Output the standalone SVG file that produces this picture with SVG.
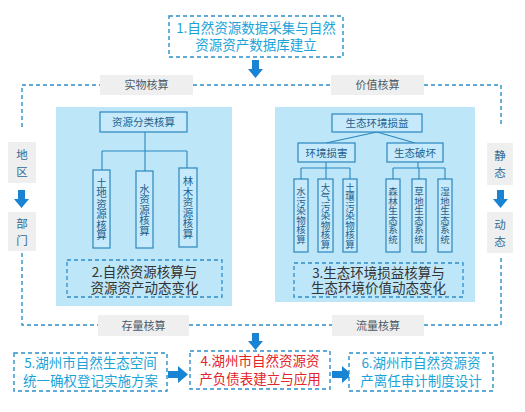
<svg xmlns="http://www.w3.org/2000/svg" width="525" height="412" viewBox="0 0 525 412">
<style>
text{font-family:"Noto Sans CJK SC","Liberation Sans",sans-serif;}
.dash{fill:none;stroke:#2b8fc9;stroke-width:1.4;stroke-dasharray:4,3;}
.dashbox{fill:#ffffff;stroke:#2b8fc9;stroke-width:1.4;stroke-dasharray:4,3;}
.dashin{fill:none;stroke:#2b8fc9;stroke-width:1.3;stroke-dasharray:4,3;}
.lab{fill:#efefef;}
.labt{font-size:11px;fill:#4a5a66;text-anchor:middle;}
.panel{fill:#bde6f8;}
.ibox{fill:#c6eafb;stroke:#2a86bf;stroke-width:1.2;}
.it{font-size:10.5px;fill:#1f5f8c;text-anchor:middle;}
.vt{font-size:10.5px;fill:#1f5f8c;writing-mode:vertical-rl;text-orientation:upright;text-anchor:middle;}
.vts{font-size:9.5px;fill:#1f5f8c;writing-mode:vertical-rl;text-orientation:upright;text-anchor:middle;}
.line{fill:none;stroke:#2a86bf;stroke-width:1.1;}
.big{font-size:13.5px;text-anchor:middle;}
.cyan{fill:#1ba3d8;}
.red{fill:#e3242b;}
.dark{fill:#333333;}
.arr{fill:#1a84d4;}
.side{font-size:11.5px;fill:#2f6a93;text-anchor:middle;}
</style>

<g id="connectors">
  <path class="dash" d="M22,127 V85 H100 M193,85 H331 M424,85 H501 V127"/>
  <path class="dash" d="M22,253 V325 H98 M189,325 H332 M424,325 H501 V255"/>
  <path class="arr" d="M252,60 H259 V69 H263 L255.5,78 L248,69 H252 Z"/>
  <path class="arr" d="M18,190 H25 V199 H29 L21.5,208 L14,199 H18 Z"/>
  <path class="arr" d="M497,190 H504 V199 H508 L500.5,208 L493,199 H497 Z"/>
  <path class="arr" d="M252,333 H259 V341 H263 L255.5,350 L248,341 H252 Z"/>
  <path class="arr" d="M168,371 H178 V366 L188,374.5 L178,383 V378 H168 Z"/>
  <path class="arr" d="M332,371 H342 V366 L352,374.5 L342,383 V378 H332 Z"/>
</g>

<g id="node1">
  <rect class="dashbox" x="169" y="16" width="174" height="41"/>
  <text class="big cyan" x="256" y="33">1.自然资源数据采集与自然<tspan x="256" dy="17">资源资产数据库建立</tspan></text>
</g>

<g id="label-shiwu">
  <rect class="lab" x="100" y="75" width="93" height="20"/>
  <text class="labt" x="146.5" y="89">实物核算</text>
</g>
<g id="label-jiazhi">
  <rect class="lab" x="331" y="75" width="93" height="20"/>
  <text class="labt" x="377.5" y="89">价值核算</text>
</g>
<g id="label-cunliang">
  <rect class="lab" x="98" y="315" width="91" height="21"/>
  <text class="labt" x="143.5" y="329.5">存量核算</text>
</g>
<g id="label-liuliang">
  <rect class="lab" x="332" y="315" width="92" height="21"/>
  <text class="labt" x="378" y="329.5">流量核算</text>
</g>

<g id="label-diqu">
  <rect class="lab" x="8" y="142" width="28" height="41"/>
  <text class="side" x="22" y="159">地<tspan x="22" dy="17">区</tspan></text>
</g>
<g id="label-bumen">
  <rect class="lab" x="8" y="212" width="28" height="39"/>
  <text class="side" x="22" y="228">部<tspan x="22" dy="17">门</tspan></text>
</g>
<g id="label-jingtai">
  <rect class="lab" x="487" y="143" width="26" height="42"/>
  <text class="side" x="500" y="160">静<tspan x="500" dy="17">态</tspan></text>
</g>
<g id="label-dongtai">
  <rect class="lab" x="487" y="212" width="26" height="41"/>
  <text class="side" x="500" y="229">动<tspan x="500" dy="17">态</tspan></text>
</g>

<g id="panel-left">
  <rect class="panel" x="56" y="107" width="176" height="199"/>
  <path class="line" d="M145,132 V171 M102,151 H187 M102,151 V170 M187,151 V168"/>
  <g id="ziyuanfenlei">
    <rect class="ibox" x="100" y="112" width="87" height="20"/>
    <text class="it" x="143.5" y="126">资源分类核算</text>
  </g>
  <g id="tudi">
    <rect class="ibox" x="93" y="170" width="17" height="78"/>
    <text class="vt" x="101.5" y="209">土地资源核算</text>
  </g>
  <g id="shuiziyuan">
    <rect class="ibox" x="136" y="171" width="17" height="77"/>
    <text class="vt" x="144.5" y="210">水资源核算</text>
  </g>
  <g id="linmu">
    <rect class="ibox" x="179" y="168" width="18" height="79"/>
    <text class="vt" x="188" y="207.5">林木资源核算</text>
  </g>
  <g id="node2">
    <rect class="dashin" x="67" y="260" width="155" height="37"/>
    <text class="big dark" x="144.5" y="277">2.自然资源核算与<tspan x="144.5" dy="16">资源资产动态变化</tspan></text>
  </g>
</g>

<g id="panel-right">
  <rect class="panel" x="275" y="107" width="200" height="195"/>
  <path class="line" d="M377,132 L326,143 M377,132 L415,143"/>
  <path class="line" d="M326,162 V168 M301,168 H350 M301,168 V179 M326,168 V179 M350,168 V179"/>
  <path class="line" d="M418,162 V168 M393,168 H445 M393,168 V179 M419,168 V179 M445,168 V179"/>
  <g id="shengtaisunyi">
    <rect class="ibox" x="332" y="114" width="90" height="18"/>
    <text class="it" x="377" y="127">生态环境损益</text>
  </g>
  <g id="huanjingsunhai">
    <rect class="ibox" x="298" y="143" width="57" height="19"/>
    <text class="it" x="326.5" y="156.5">环境损害</text>
  </g>
  <g id="shengtaipohuai">
    <rect class="ibox" x="387" y="143" width="56" height="19"/>
    <text class="it" x="415" y="156.5">生态破坏</text>
  </g>
  <g id="shuiwuran">
    <rect class="ibox" x="294" y="179" width="14" height="73"/>
    <text class="vts" x="301" y="215.5">水污染物核算</text>
  </g>
  <g id="daqiwuran">
    <rect class="ibox" x="318" y="179" width="15" height="73"/>
    <text class="vts" x="325.5" y="215.5">大气污染物核算</text>
  </g>
  <g id="turangwuran">
    <rect class="ibox" x="343" y="179" width="14" height="73"/>
    <text class="vts" x="350" y="215.5">土壤污染物核算</text>
  </g>
  <g id="senlin">
    <rect class="ibox" x="386" y="179" width="14" height="73"/>
    <text class="vts" x="393" y="215.5">森林生态系统</text>
  </g>
  <g id="caodi">
    <rect class="ibox" x="412" y="179" width="14" height="73"/>
    <text class="vts" x="419" y="215.5">草地生态系统</text>
  </g>
  <g id="shidi">
    <rect class="ibox" x="438" y="179" width="14" height="73"/>
    <text class="vts" x="445" y="215.5">湿地生态系统</text>
  </g>
  <g id="node3">
    <rect class="dashin" x="294" y="263" width="169" height="34"/>
    <text class="big dark" x="378.5" y="278">3.生态环境损益核算与<tspan x="378.5" dy="15">生态环境价值动态变化</tspan></text>
  </g>
</g>

<g id="node5">
  <rect class="dashbox" x="14" y="353" width="153" height="38"/>
  <text class="big cyan" x="90.5" y="368">5.湖州市自然生态空间<tspan x="90.5" dy="18">统一确权登记实施方案</tspan></text>
</g>
<g id="node4">
  <rect class="dashbox" x="190" y="351" width="140" height="38"/>
  <text class="big red" x="260" y="366">4.湖州市自然资源资<tspan x="260" dy="18">产负债表建立与应用</tspan></text>
</g>
<g id="node6">
  <rect class="dashbox" x="349" y="353" width="144" height="38"/>
  <text class="big cyan" x="421" y="368">6.湖州市自然资源资<tspan x="421" dy="18">产离任审计制度设计</tspan></text>
</g>
</svg>
